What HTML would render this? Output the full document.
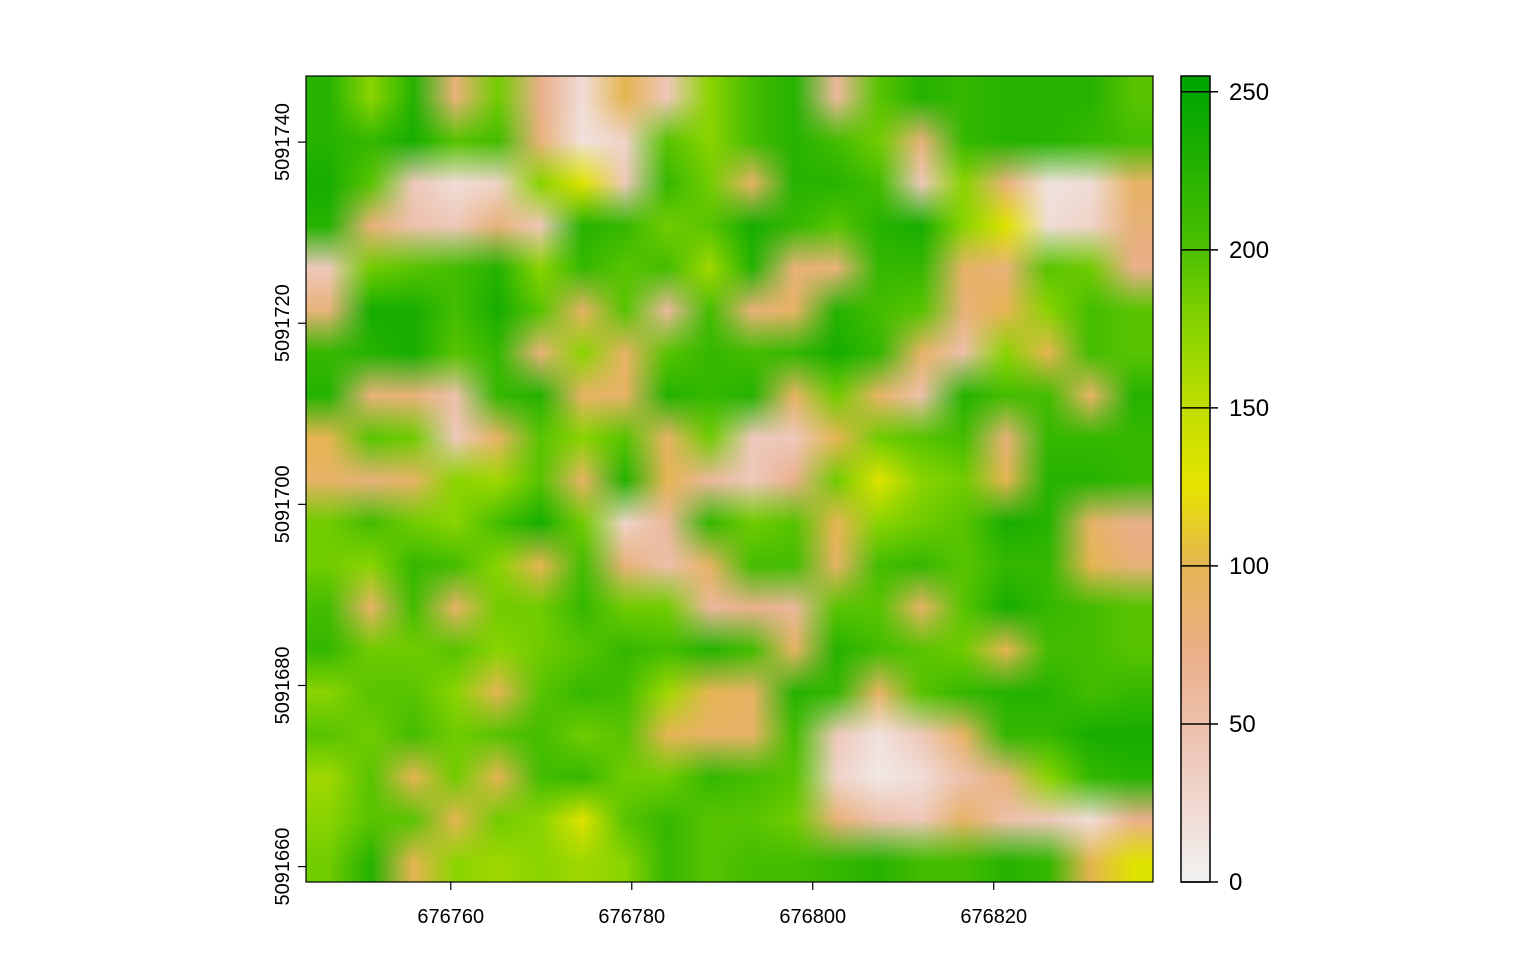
<!DOCTYPE html>
<html><head><meta charset="utf-8">
<style>
html,body{margin:0;padding:0;background:#fff;}
body{width:1536px;height:960px;position:relative;overflow:hidden;font-family:"Liberation Sans",sans-serif;}
#plot{position:absolute;left:0;top:0;}
</style></head>
<body>
<canvas id="raster" style="position:absolute;left:306px;top:76px;width:847px;height:806px;image-rendering:auto;" width="20" height="19"></canvas>
<svg id="plot" width="1536" height="960"></svg>
<script>
const xTicks=[676760,676780,676800,676820];
const yTicks=[5091660,5091680,5091700,5091720,5091740];
const legendTicks=[0,50,100,150,200,250];
const gridValues=[
[225,175,225,80,185,70,20,100,40,175,205,225,60,195,225,215,225,225,225,195],
[225,215,235,195,205,80,15,30,195,175,205,225,205,185,80,215,225,225,215,205],
[235,195,40,20,30,175,130,40,215,185,90,225,225,205,40,175,80,15,20,90],
[225,80,50,40,80,40,225,215,185,195,235,215,195,225,235,175,130,20,30,80],
[40,185,195,205,225,175,215,195,205,165,225,80,80,215,215,90,80,195,185,70],
[80,235,235,205,235,195,90,195,60,205,80,90,225,205,195,80,100,175,205,195],
[215,225,235,195,215,80,175,90,195,215,205,215,235,215,90,50,175,100,205,195],
[225,80,80,50,215,225,90,90,225,215,225,90,185,90,50,225,205,205,90,225],
[100,195,185,40,90,195,175,195,90,185,40,40,100,185,195,205,80,215,215,215],
[90,80,90,175,165,195,90,225,100,60,40,70,185,130,175,185,100,225,225,215],
[185,205,185,175,205,235,185,30,60,215,185,195,100,175,185,195,235,225,90,70],
[185,175,215,205,175,100,205,80,50,90,205,205,90,205,215,195,215,215,100,80],
[205,90,205,90,185,185,215,185,185,60,70,60,195,195,90,195,235,215,205,195],
[215,185,185,195,175,185,195,215,205,225,205,90,225,205,195,185,100,205,205,195],
[175,195,195,175,100,195,215,205,165,100,90,225,215,90,195,215,225,225,205,215],
[195,185,205,185,195,205,185,195,100,90,90,205,40,15,40,90,215,215,235,235],
[165,195,100,185,100,205,215,185,185,215,205,195,30,10,20,50,80,175,215,225],
[175,195,195,100,185,175,130,195,215,195,195,185,80,50,40,90,50,40,20,70],
[185,225,100,175,165,175,165,175,215,195,205,205,215,225,205,205,225,215,100,130]
];
const colorStops=[[0,[242,242,242]],[40,[238,200,186]],[70,[234,176,140]],[100,[229,181,83]],[125,[230,228,0]],[150,[192,222,0]],[175,[138,212,0]],[200,[76,192,0]],[250,[0,166,0]]];
const X0=676744.0,X1=676837.6,Y0=5091658.3,Y1=5091747.3;
const PL=306,PR=1153,PT=76,PB=882;
function xs(v){return PL+(v-X0)/(X1-X0)*(PR-PL);}
function ys(v){return PB-(v-Y0)/(Y1-Y0)*(PB-PT);}
const LB=882,LT=76,LMAX=255;
function ls(v){return LB-v/LMAX*(LB-LT);}
function col(v){
  for(let i=1;i<colorStops.length;i++){
    if(v<=colorStops[i][0]){const a=colorStops[i-1],b=colorStops[i];const t=(v-a[0])/(b[0]-a[0]);
      return a[1].map((c,k)=>Math.round(c+(b[1][k]-c)*t));}
  }
  return colorStops[colorStops.length-1][1];
}
const cv=document.getElementById('raster');
const rows=gridValues.length,cols=gridValues[0].length;
cv.width=cols;cv.height=rows;
const ctx=cv.getContext('2d');
const img=ctx.createImageData(cols,rows);
for(let r=0;r<rows;r++)for(let c=0;c<cols;c++){const k=(r*cols+c)*4;const p=col(gridValues[r][c]);img.data[k]=p[0];img.data[k+1]=p[1];img.data[k+2]=p[2];img.data[k+3]=255;}
ctx.putImageData(img,0,0);
cv.style.left=xs(X0)+'px';cv.style.top=ys(Y1)+'px';cv.style.width=(xs(X1)-xs(X0))+'px';cv.style.height=(ys(Y0)-ys(Y1))+'px';

const svg=document.getElementById('plot');
const NS='http://www.w3.org/2000/svg';
function mk(tag,attrs,parent){const e=document.createElementNS(NS,tag);for(const k in attrs)e.setAttribute(k,attrs[k]);(parent||svg).appendChild(e);return e;}
const frame=mk('rect',{x:PL,y:PT,width:PR-PL,height:PB-PT,fill:'none',stroke:'#000','stroke-width':1.2});


xTicks.forEach(t=>{
  const x=xs(t);
  const l=mk('line',{x1:x,x2:x,y1:PB,y2:PB+8,stroke:'#000','stroke-width':1.2});
  
  
  const tx=mk('text',{x:x,y:923,'text-anchor':'middle','font-size':20,fill:'#000'});
  tx.textContent=t;
  
  
});
yTicks.forEach(t=>{
  const y=ys(t);
  const l=mk('line',{x1:PL-8,x2:PL,y1:y,y2:y,stroke:'#000','stroke-width':1.2});
  
  
  const tx=mk('text',{x:0,y:0,'text-anchor':'middle','font-size':20,fill:'#000',transform:`translate(289,${y}) rotate(-90)`});
  tx.textContent=t;
  
  
});
const defs=mk('defs',{});
const grad=mk('linearGradient',{id:'lg',x1:0,y1:1,x2:0,y2:0},defs);
for(let v=0;v<=LMAX;v+=5){mk('stop',{offset:v/LMAX,'stop-color':'rgb('+col(v).join(',')+')'},grad);}
const bar=mk('rect',{x:1181,y:LT,width:29,height:LB-LT,fill:'url(#lg)',stroke:'#000','stroke-width':1.5});


legendTicks.forEach(t=>{
  const y=ls(t);
  const l=mk('line',{x1:1181,x2:1218,y1:y,y2:y,stroke:'#000','stroke-width':1.5});
  
  
  const tx=mk('text',{x:1229,y:y+8,'font-size':24,fill:'#000'});
  tx.textContent=t;
  
  
});
</script>
</body></html>
